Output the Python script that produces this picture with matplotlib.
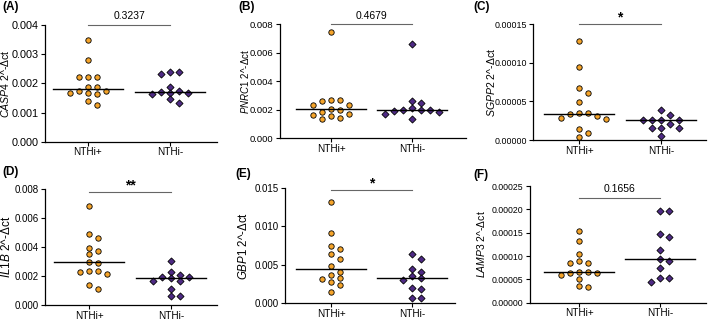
import numpy as np
import matplotlib
matplotlib.use("Agg")
import matplotlib.pyplot as plt
from matplotlib.ticker import FormatStrFormatter

plt.rcParams['font.family'] = ['Liberation Sans', 'DejaVu Sans']
plt.rcParams['mathtext.fontset'] = 'custom'
plt.rcParams['mathtext.rm'] = 'Liberation Sans'
plt.rcParams['mathtext.it'] = 'Liberation Sans:italic'

groups = ['NTHi+', 'NTHi-']
genes = ['CASP4', 'PNRC1', 'SGPP2', 'IL1B', 'GBP1', 'LAMP3']
panel_tags = ['(A)', '(B)', '(C)', '(D)', '(E)', '(F)']
sig_labels = ['0.3237', '0.4679', '*', '**', '*', '0.1656']

casp4_pos = [0.00349, 0.0028, 0.00221, 0.00221, 0.00221, 0.00189, 0.00187,
             0.00175, 0.00175, 0.00168, 0.00168, 0.00165, 0.00141, 0.00126]
casp4_neg = [0.0024, 0.0024, 0.00231, 0.00189, 0.00174, 0.00172, 0.00168,
             0.00166, 0.00162, 0.00145, 0.00134]

pnrc1_pos = [0.00744, 0.00268, 0.00263, 0.00265, 0.0023, 0.00235, 0.00205,
             0.00201, 0.00184, 0.00167, 0.00165, 0.00158, 0.0014, 0.00135]
pnrc1_neg = [0.0066, 0.00261, 0.0025, 0.0021, 0.002, 0.00198, 0.00199,
             0.0019, 0.00182, 0.00172, 0.00137]

sgpp2_pos = [0.000128, 0.000094, 0.0000677, 0.0000612, 0.0000495, 0.0000345,
             0.0000335, 0.000035, 0.0000315, 0.0000276, 0.000028, 0.0000138,
             0.0000087, 0.0000035]
sgpp2_neg = [0.0000388, 0.0000323, 0.000026, 0.0000255, 0.0000258, 0.0000262,
             0.0000207, 0.0000151, 0.000015, 0.0000153, 0.0000056]

il1b_pos = [0.00687, 0.00489, 0.00463, 0.00396, 0.00371, 0.00353, 0.00296,
            0.00293, 0.00235, 0.00236, 0.00226, 0.00217, 0.00138, 0.00113]
il1b_neg = [0.00302, 0.00228, 0.0021, 0.00196, 0.00196, 0.00184, 0.00166,
            0.00166, 0.00111, 0.0006, 0.0006]

gbp1_pos = [0.0131, 0.00907, 0.00743, 0.00704, 0.00635, 0.00574, 0.0048,
            0.0041, 0.00371, 0.00328, 0.00315, 0.00272, 0.00237, 0.0015]
gbp1_neg = [0.00635, 0.0057, 0.00445, 0.0041, 0.00354, 0.00324, 0.00302,
            0.00194, 0.00182, 0.00073, 0.00073]

lamp3_pos = [0.0001536, 0.0001322, 0.000105, 0.0000893, 0.0000857, 0.0000857,
             0.0000664, 0.0000664, 0.0000643, 0.000063, 0.00006, 0.00005,
             0.0000358, 0.0000336]
lamp3_neg = [0.0001958, 0.0001958, 0.000147, 0.0001414, 0.0001122, 0.000093,
             0.0000893, 0.000075, 0.0000536, 0.0000522, 0.0000443]

y_max = [0.004, 0.008, 0.00015, 0.008, 0.015, 0.00025]
y_step = [0.001, 0.002, 0.00005, 0.002, 0.005, 0.00005]
y_fmt = ['%.3f', '%.3f', '%.5f', '%.3f', '%.3f', '%.5f']
sig_y = [0.004, 0.008, 0.00015, 0.0078, 0.0147, 0.000225]

data = [(casp4_pos, casp4_neg), (pnrc1_pos, pnrc1_neg), (sgpp2_pos, sgpp2_neg),
        (il1b_pos, il1b_neg), (gbp1_pos, gbp1_neg), (lamp3_pos, lamp3_neg)]

# layout in pixels: y-axis x, x-axis end, tick1 x, tick2 x, top y, bottom y
boxes = [(45, 217, 88, 170, 25, 141.7),
         (280, 466, 331, 412, 24, 138.3),
         (533, 706, 579, 661, 24, 140),
         (45, 217, 89, 171, 189.3, 305),
         (285, 455, 331, 412, 187.7, 303.3),
         (530, 706, 579, 660, 186, 302.7)]
label_right = [11, 251, 497, 13, 250, 487]
tick_fs = [7.8, 6.8, 6.4, 7.0, 7.0, 6.3]
label_fs = [7.6, 7.0, 7.6, 8.5, 8.3, 7.5]
tag_pos = [(2, 7), (238, 7), (473, 7), (2, 172), (235, 174), (473, 175)]

W, H = 709, 321
orange = '#F5A42A'
purple = '#4E2A84'


def swarm(ax, vals, step_px=9.0, min_dy=6.0):
    vals = np.asarray(vals)
    ypx = ax.transData.transform(np.column_stack([np.zeros(len(vals)), vals]))[:, 1]
    px_unit = ax.transData.transform((1, 0))[0] - ax.transData.transform((0, 0))[0]
    slots = {}
    offs = np.zeros(len(vals))
    for i in np.argsort(-vals, kind='stable'):
        for k in [0, 1, -1, 2, -2, 3, -3, 4, -4]:
            if all(abs(ypx[i] - ypx[j]) >= min_dy for j in slots.get(k, [])):
                break
        slots.setdefault(k, []).append(i)
        offs[i] = k
    return offs * step_px / px_unit


fig = plt.figure(figsize=(W / 100, H / 100), dpi=100)

for p in range(6):
    x0, x1, t1, t2, yt, yb = boxes[p]
    ax = fig.add_axes([x0 / W, 1 - yb / H, (x1 - x0) / W, (yb - yt) / H])
    sp = t2 - t1
    ax.set_xlim(-(t1 - x0) / sp, 1 + (x1 - t2) / sp)
    ax.set_ylim(0, y_max[p])

    for g, (vals, col, mk, sz) in enumerate([(data[p][0], orange, 'o', 15),
                                             (data[p][1], purple, 'D', 13)]):
        xs = g + swarm(ax, vals)
        ax.scatter(xs, vals, s=sz, marker=mk, c=col, edgecolors='black',
                   linewidths=0.6, zorder=3, clip_on=False)
        med = np.median(vals)
        ax.plot([g - 0.43, g + 0.43], [med, med], color='black', lw=1.0, zorder=4)

    # significance bar
    ax.plot([0, 1], [sig_y[p], sig_y[p]], color='#666666', lw=0.8, clip_on=False)
    star = sig_labels[p].startswith('*')
    ax.text(0.5, sig_y[p] + y_max[p] * (0.0 if star else 0.03), sig_labels[p],
            ha='center', va='bottom', fontsize=10 if star else 7.5,
            fontweight='bold' if star else 'normal')

    ax.set_yticks(np.arange(0, y_max[p] + y_step[p] / 2, y_step[p]))
    ax.yaxis.set_major_formatter(FormatStrFormatter(y_fmt[p]))
    ax.set_xticks([0, 1])
    ax.set_xticklabels(groups)
    ax.tick_params(axis='y', labelsize=tick_fs[p], length=3, width=0.8, pad=1.5)
    ax.tick_params(axis='x', labelsize=7.2, length=3, width=0.8, pad=1)
    for s in ['top', 'right']:
        ax.spines[s].set_visible(False)
    for s in ['left', 'bottom']:
        ax.spines[s].set_linewidth(0.9)
    ax.set_ylabel(r'$\mathit{' + genes[p] + r'}$ 2^-Δct', fontsize=label_fs[p])
    ax.yaxis.set_label_coords((label_right[p] - x0) / (x1 - x0), 0.5)

    fig.text(tag_pos[p][0] / W, 1 - tag_pos[p][1] / H, panel_tags[p],
             fontsize=8.5, fontweight='bold', va='center', ha='left')

fig.savefig('out.png', dpi=100)
